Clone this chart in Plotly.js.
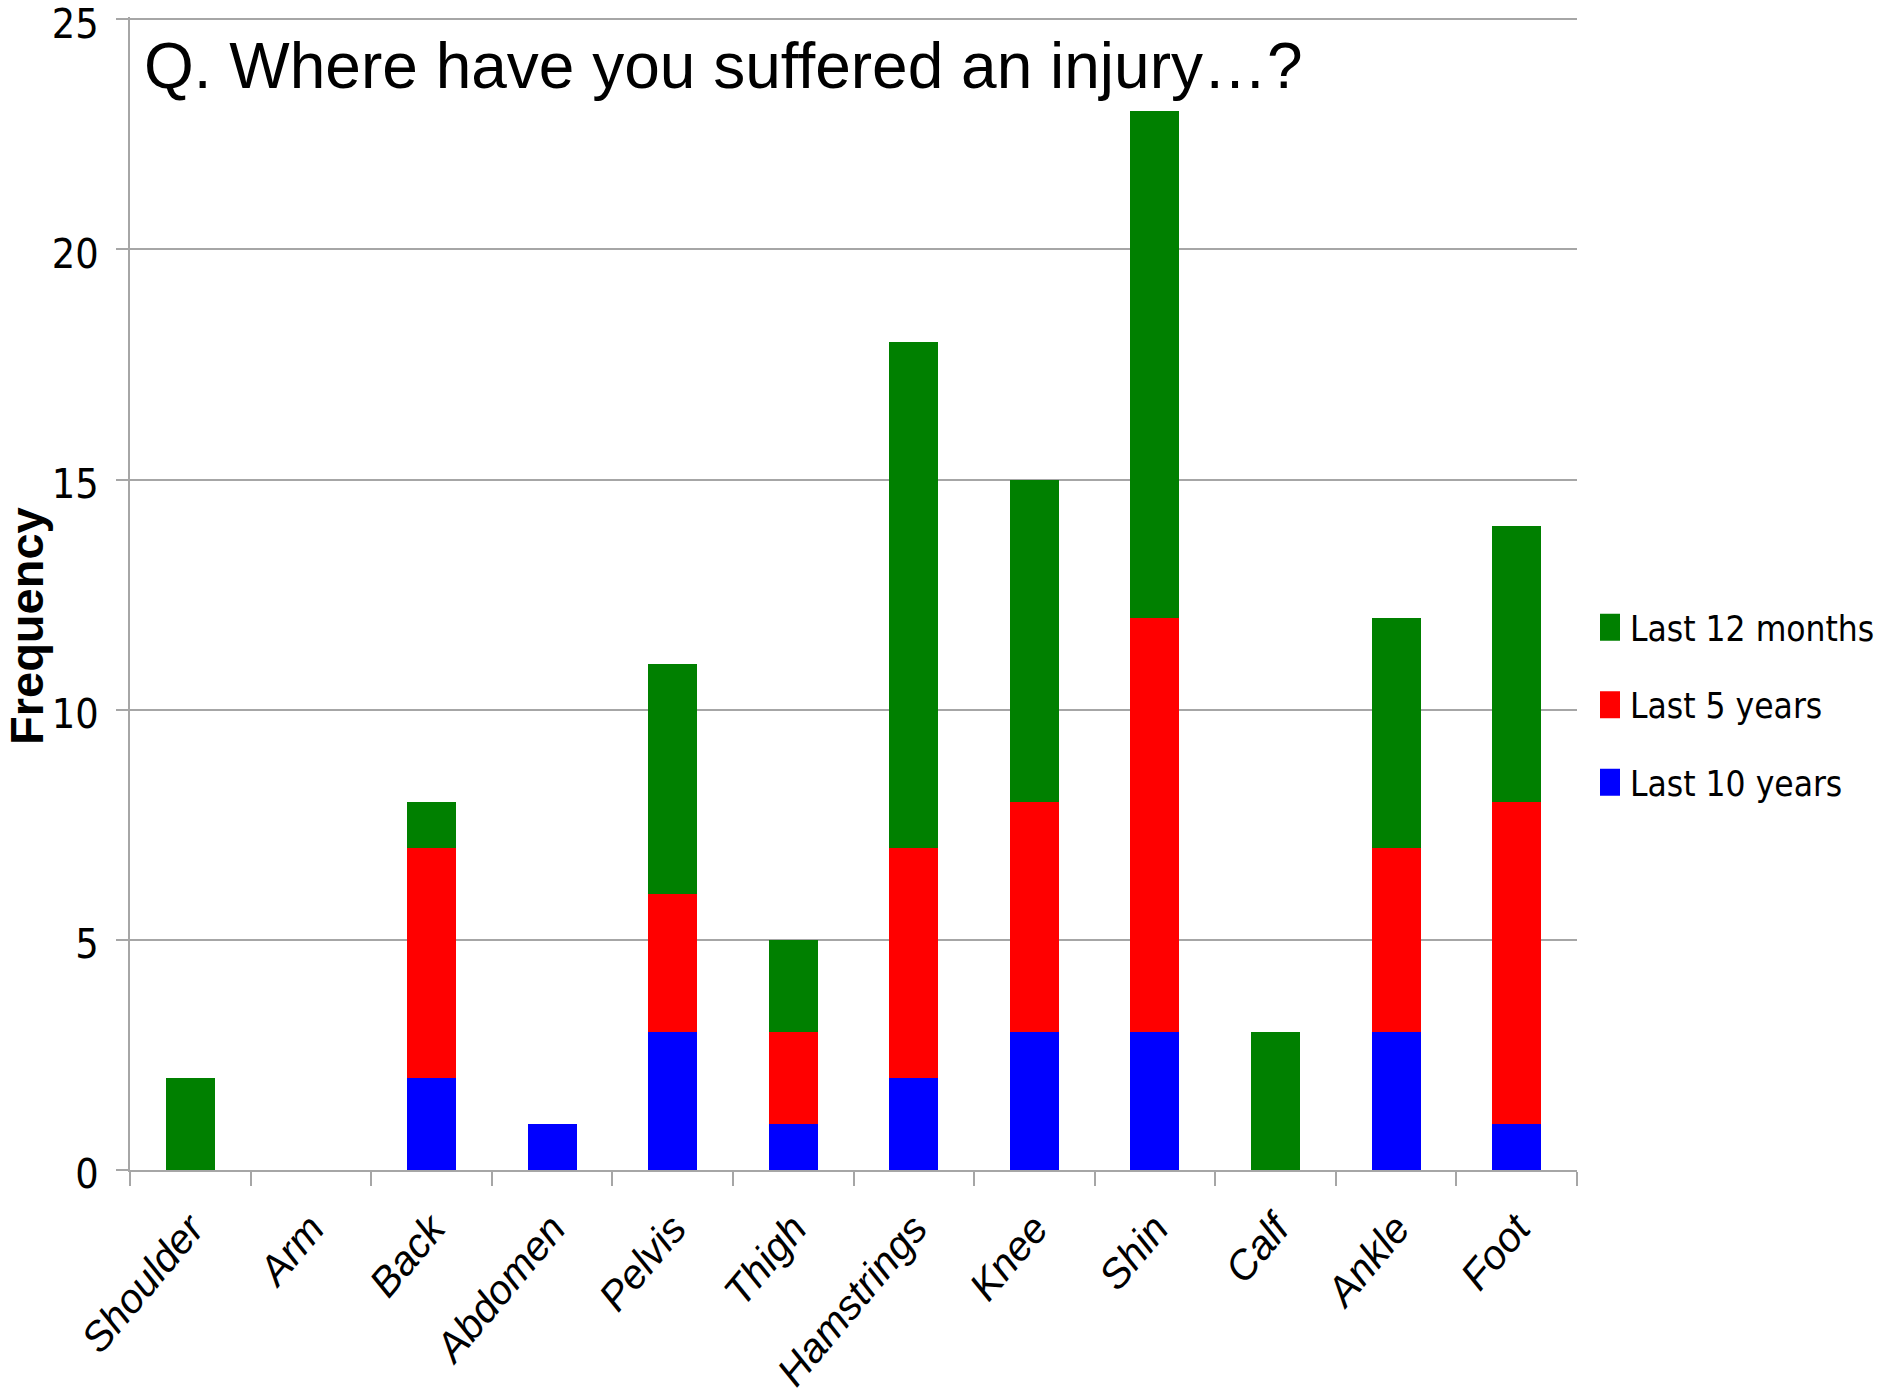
<!DOCTYPE html>
<html>
<head>
<meta charset="utf-8">
<script src="https://cdn.plot.ly/plotly-3.0.1.min.js"></script>
<style>
  html, body { margin: 0; padding: 0; background: #ffffff; }
  #chart { width: 1883px; height: 1397px; }
</style>
</head>
<body>
<div id="chart"></div>
<script>
const categories = ["Shoulder", "Arm", "Back", "Abdomen", "Pelvis", "Thigh", "Hamstrings", "Knee", "Shin", "Calf", "Ankle", "Foot"];
const last10Years = [0, 0, 2, 1, 3, 1, 2, 3, 3, 0, 3, 1];
const last5Years = [0, 0, 5, 0, 3, 2, 5, 5, 9, 0, 4, 7];
const last12Months = [2, 0, 1, 0, 5, 2, 11, 7, 11, 3, 5, 6];
const seriesNames = ["Last 10 years", "Last 5 years", "Last 12 months"];
const seriesColors = ["#0000FF", "#FF0000", "#008000"];
const legendRanks = [3, 2, 1];
const yTickValues = [0, 5, 10, 15, 20, 25];
const chartTitle = "Q. Where have you suffered an injury\u2026?";
const yTitle = "Frequency";

const narrow = "'Liberation Sans Narrow', 'Arial Narrow', 'DejaVu Sans Condensed', sans-serif";
const arial = "'Liberation Sans', Arial, sans-serif";

const seriesValues = [last10Years, last5Years, last12Months];
const traces = seriesValues.map((vals, i) => ({
  type: "bar",
  name: seriesNames[i],
  x: categories,
  y: vals,
  legendgroup: "g" + i,
  legendrank: legendRanks[i],
  marker: { color: seriesColors[i], line: { width: 0 } },
  hoverinfo: "x+y+name"
}));

const layout = {
  width: 1883,
  height: 1397,
  paper_bgcolor: "#ffffff",
  plot_bgcolor: "#ffffff",
  barmode: "stack",
  bargap: 0.594,
  margin: { l: 130, r: 306, t: 17, b: 227, pad: 0 },
  title: {
    text: chartTitle,
    font: { family: arial, size: 64, color: "#000000" },
    xref: "container",
    yref: "container",
    x: 144 / 1883,
    xanchor: "left",
    y: 1 - 66 / 1397,
    yanchor: "middle"
  },
  xaxis: {
    type: "category",
    showline: true,
    linecolor: "#a6a6a6",
    linewidth: 2,
    ticks: "outside",
    tickson: "boundaries",
    ticklen: 14,
    tickwidth: 2,
    tickcolor: "#a6a6a6",
    tickangle: -50,
    ticklabelstandoff: 16,
    tickfont: { family: arial, size: 41, color: "#000000", style: "italic" },
    showgrid: false,
    zeroline: false,
    automargin: false
  },
  yaxis: {
    range: [0, 25.05],
    tickvals: yTickValues,
    ticktext: yTickValues.map(String),
    showline: true,
    linecolor: "#a6a6a6",
    linewidth: 2,
    ticks: "outside",
    ticklen: 12,
    tickwidth: 2,
    tickcolor: "#a6a6a6",
    showgrid: true,
    gridcolor: "#a6a6a6",
    gridwidth: 2,
    zeroline: false,
    ticklabelstandoff: 9,
    ticklabelshift: 4,
    ticklabeloverflow: "allow",
    tickfont: { family: narrow, size: 41, color: "#000000" },
    automargin: false
  },
  annotations: [{
    text: yTitle,
    xref: "paper",
    yref: "paper",
    x: (26 - 130) / 1447,
    y: (1170 - 626) / 1153,
    xanchor: "center",
    yanchor: "middle",
    textangle: -90,
    showarrow: false,
    font: { family: arial, size: 47, color: "#000000", weight: "bold" }
  }],
  showlegend: true,
  legend: {
    xref: "container",
    yref: "container",
    x: 1590 / 1883,
    xanchor: "left",
    y: 1 - 705 / 1397,
    yanchor: "middle",
    traceorder: "grouped",
    tracegroupgap: 29,
    font: { family: narrow, size: 35, color: "#000000" },
    bgcolor: "rgba(0,0,0,0)",
    borderwidth: 0
  }
};

Plotly.newPlot("chart", traces, layout, { displayModeBar: false, responsive: false }).then(() => {
  document.querySelectorAll(".legend .legendpoints path").forEach(p => {
    p.setAttribute("d", "M10,13.5H-10V-13.5H10Z");
  });
});
</script>
</body>
</html>
